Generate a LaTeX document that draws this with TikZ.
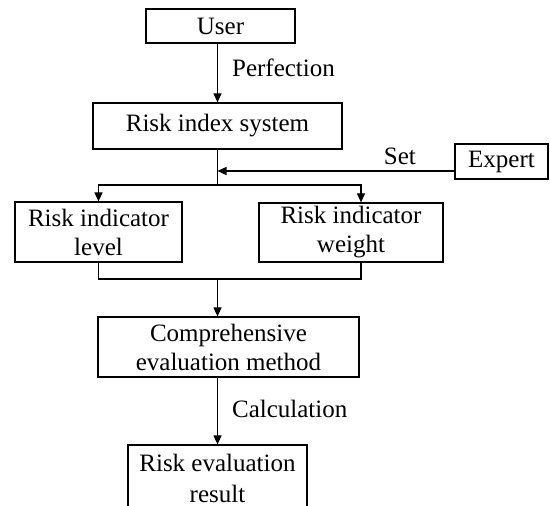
\documentclass[tikz,border=0pt]{standalone}
\usepackage{fontspec}
\setmainfont{Liberation Serif}
\usetikzlibrary{arrows.meta}

\begin{document}
\begin{tikzpicture}[x=0.5pt, y=-0.5pt, >={Triangle[length=4.5pt,width=4pt]}, line width=0.6pt]
        \tikzstyle{block}=[draw=black, align=center, inner sep=0pt, font=\fontsize{12.5}{14.5}\selectfont]
        \tikzstyle{label}=[inner sep=2pt, font=\fontsize{12.5}{14.5}\selectfont]

        \useasboundingbox (0,0) rectangle (550,506);

        % Top
        \draw node at (220.5, 26) [block, minimum width=74.5pt, minimum height=17pt] (user) {User};
        \draw node at (217.5, 126) [block, minimum width=124.5pt, minimum height=23pt] (risksys) {Risk index system};
        \draw node at (501.5, 161.5) [block, minimum width=46.5pt, minimum height=17.5pt] (expert) {Expert};

        % Indicators
        \draw node at (98.5, 232) [block, minimum width=83.5pt, minimum height=30pt] (level) {Risk indicator\\level};
        \draw node at (351, 232.5) [block, minimum width=92pt, minimum height=29.5pt] (weight) {Risk indicator\\weight};

        % Evaluation
        \draw node at (228.5, 347) [block, minimum width=130.5pt, minimum height=30pt] (method) {Comprehensive\\evaluation method};
        \draw node at (217.5, 478) [block, minimum width=89.5pt, minimum height=33pt] (result) {Risk evaluation\\[1pt]result};

        \coordinate (setin) at (expert.west |- 0, 171);
        \coordinate (split) at (risksys.south |- 0, 185);
        \coordinate (merge) at (risksys.south |- 0, 279);

        % User -> system
        \draw [->] (user.south -| risksys.south) to node[label, right=5pt, pos=0.42] {Perfection} (risksys.north);

        % Expert -> system
        \draw [->] (setin) to node[label, above=1pt, pos=0.23] {Set} (setin -| risksys.south);

        % System -> indicators
        \draw (risksys.south) -- (split);
        \draw [->] (split) -| (level.north);
        \draw [->] (split) -| ([xshift=5pt]weight.north);

        % Indicators -> method
        \draw (level.south) |- (merge);
        \draw ([xshift=5pt]weight.south) |- (merge);
        \draw [->] (merge) -- (merge |- method.north);

        % Method -> result
        \draw [->] (method.south -| result.north) to node[label, right=5pt, pos=0.47] {Calculation} (result.north);

    \end{tikzpicture}
\end{document}
